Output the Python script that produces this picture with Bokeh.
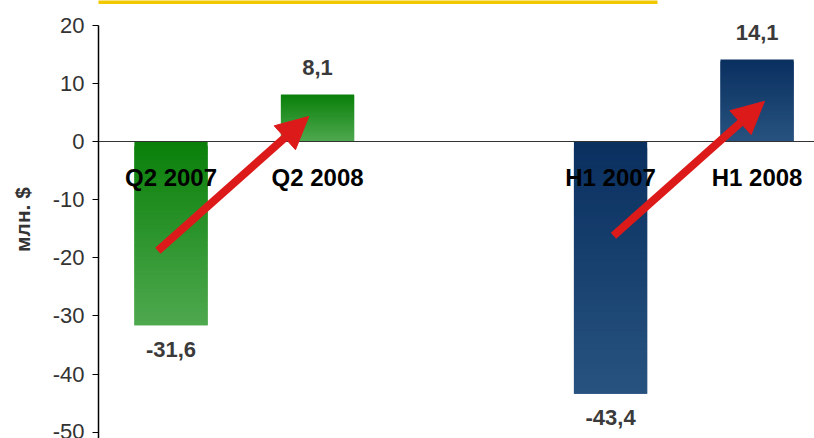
from bokeh.plotting import figure
from bokeh.models import (Range1d, Span, Arrow, NormalHead, BoxAnnotation,
                          FixedTicker, ColumnDataSource)
from bokeh.core.properties import value
from bokeh.embed import file_html
from bokeh.resources import INLINE

# ---- data ----
categories = ["Q2 2007", "Q2 2008", "H1 2007", "H1 2008"]
positions = [0, 1, 3, 4]
values = [-31.6, 8.1, -43.4, 14.1]
value_labels = ["-31,6", "8,1", "-43,4", "14,1"]
groups = ["Q2", "Q2", "H1", "H1"]
y_ticks = [-50, -40, -30, -20, -10, 0, 10, 20]
y_tick_labels = ["-50", "-40", "-30", "-20", "-10", "0", "10", "20"]
arrow_x0 = [-0.09, 3.02]
arrow_y0 = [-18.8, -16.2]
arrow_x1 = [0.94, 4.05]
arrow_y1 = [4.3, 6.9]

# ---- styles ----
grad = {"Q2": ((10, 128, 10), (78, 168, 78)),
        "H1": ((10, 48, 96), (39, 82, 127))}
BAR_W = 0.5
N = 40
FONT = "Liberation Sans"
SH = 8  # page shift compensation

p = figure(width=814 + SH, height=438 + SH, output_backend="svg",
           toolbar_location=None,
           x_range=Range1d(-0.495, 4.392), y_range=Range1d(-51.08, 24.25),
           min_border_left=98 + SH, min_border_right=0, min_border_top=SH,
           min_border_bottom=0, outline_line_color=None,
           background_fill_color="white", border_fill_color="white")
p.styles = {"margin": "-8px"}
p.xaxis.visible = False
p.grid.visible = False

ax = p.yaxis[0]
ax.ticker = FixedTicker(ticks=y_ticks)
ax.major_label_overrides = dict(zip(y_ticks, y_tick_labels))
ax.bounds = (-52, 20)
ax.axis_label = "млн. $"
ax.axis_label_text_font = FONT
ax.axis_label_text_font_style = "bold"
ax.axis_label_text_font_size = "21px"
ax.axis_label_text_color = "#333333"
ax.axis_label_standoff = 16
ax.major_label_text_font = FONT
ax.major_label_text_font_size = "22px"
ax.major_label_text_color = "#333333"
ax.major_label_standoff = 8
ax.major_tick_in = 0
ax.major_tick_out = 6
ax.minor_tick_in = 0
ax.minor_tick_out = 0
ax.axis_line_color = "black"
ax.axis_line_width = 1.5
ax.major_tick_line_color = "black"

# gradient bars as stacked, overlapping slices
L, R, B, T, C = [], [], [], [], []
for x, v, g in zip(positions, values, groups):
    hi, lo = max(0, v), min(0, v)
    c0, c1 = grad[g]
    step = (hi - lo) / N
    for i in range(N):
        t = i / (N - 1)
        col = tuple(int(round(a + (b - a) * t)) for a, b in zip(c0, c1))
        L.append(x - BAR_W / 2)
        R.append(x + BAR_W / 2)
        T.append(hi - i * step)
        B.append(max(lo, hi - (i + 2) * step))
        C.append("#%02x%02x%02x" % col)
p.quad(left=L, right=R, bottom=B, top=T, fill_color=C, line_color=None)

p.add_layout(Span(location=0, dimension="width", line_color="#333333",
                  line_width=1.2))

# value labels
offs = [-27 if v > 0 else 24 for v in values]
p.text(x=positions, y=values, text=value_labels, y_offset=offs,
       text_align="center", text_baseline="middle",
       text_font=value(FONT), text_font_style="bold",
       text_font_size="22px", text_color="#3a3a3a")

# category labels near zero line
p.text(x=positions, y=[0] * len(positions), text=categories, y_offset=36,
       text_align="center", text_baseline="middle",
       text_font=value(FONT), text_font_style="bold",
       text_font_size="24px", text_color="black")

# arrows
asrc = ColumnDataSource(dict(x0=arrow_x0, y0=arrow_y0, x1=arrow_x1, y1=arrow_y1))
p.add_layout(Arrow(source=asrc, x_start="x0", y_start="y0", x_end="x1", y_end="y1",
                   line_color="#dd1a1a", line_width=8,
                   end=NormalHead(size=32, fill_color="#dd1a1a",
                                  line_color="#dd1a1a", line_width=1)))

# yellow rule at top
p.add_layout(BoxAnnotation(left=52 + SH, right=657 + SH, top=SH - 2, bottom=SH + 3.5,
                           left_units="canvas", right_units="canvas",
                           top_units="canvas", bottom_units="canvas",
                           fill_color="#f2c800", fill_alpha=1, line_color=None))

open("out.html", "w").write(file_html(p, INLINE))
